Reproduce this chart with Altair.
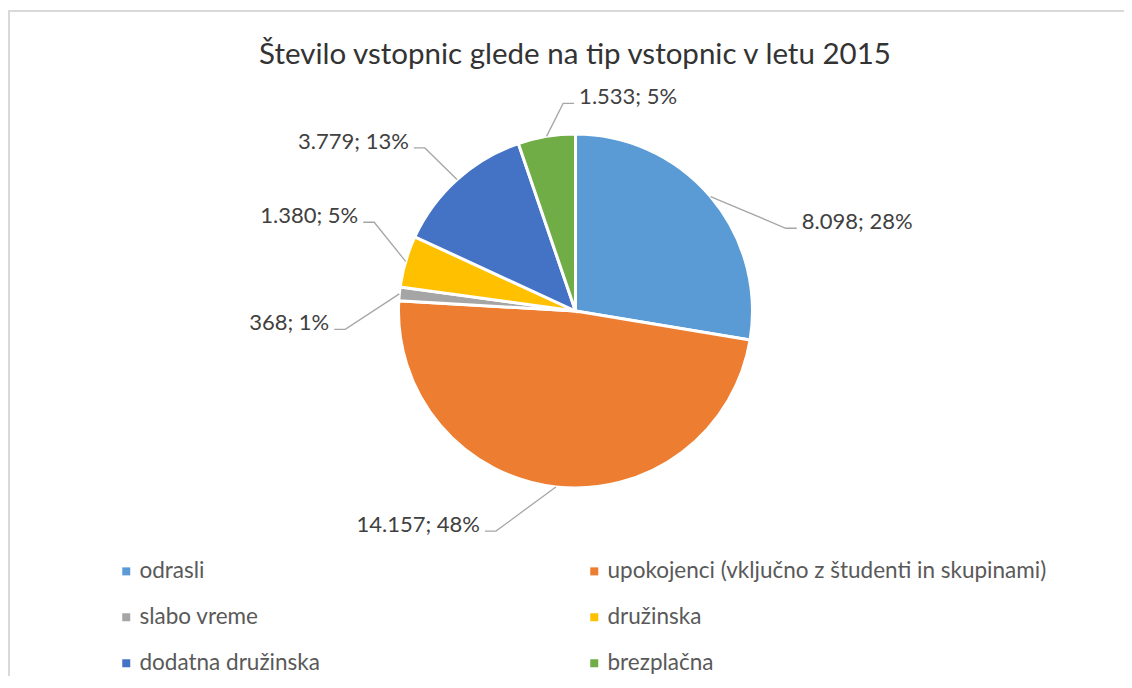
import altair as alt
import pandas as pd
import numpy as np

# ---------------- data ----------------
TITLE = "Število vstopnic glede na tip vstopnic v letu 2015"
CATEGORIES = [
    "odrasli",
    "upokojenci (vključno z študenti in skupinami)",
    "slabo vreme",
    "družinska",
    "dodatna družinska",
    "brezplačna",
]
VALUES = [8098, 14157, 368, 1380, 3779, 1533]
COLORS = ["#5B9BD5", "#ED7D31", "#A5A5A5", "#FFC000", "#4472C4", "#70AD47"]

# ---------------- layout (Excel "best fit" label placement) ----------------
LABEL_SHIFT_DEG = [18.8, 13.5, -10.1, 7.5, -0.7, 6.0]
LABEL_RADIUS = [226, 234, 231, 220, 222, 208]
LABEL_SIDE = ["right", "left", "left", "left", "left", "right"]

W, H = 1116, 668          # view = whole drawing area
CX, CY = 567.5, 303       # pie centre inside the view
R = 177                   # pie radius
ELBOW = 11
GAP = 5

total = sum(VALUES)


def fmt(v):
    return f"{v:,}".replace(",", ".")


pie_df = pd.DataFrame({
    "category": CATEGORIES,
    "value": VALUES,
    "idx": list(range(len(VALUES))),
    "cx": 0.0,
    "cy": 0.0,
})

line_rows, text_rows = [], []
cum = 0.0
for i, v in enumerate(VALUES):
    mid = np.radians((cum + v / 2) / total * 360)
    cum += v
    lab = mid + np.radians(LABEL_SHIFT_DEG[i])
    x0, y0 = R * np.sin(mid), -R * np.cos(mid)
    x1, y1 = LABEL_RADIUS[i] * np.sin(lab), -LABEL_RADIUS[i] * np.cos(lab)
    sgn = 1 if LABEL_SIDE[i] == "right" else -1
    x2 = x1 + sgn * ELBOW
    for p, (xx, yy) in enumerate([(x0, y0), (x1, y1), (x2, y1)]):
        line_rows.append({"slice": CATEGORIES[i], "pt": p, "x": xx, "y": yy})
    pct = int(round(v / total * 100))
    text_rows.append({
        "label": f"{fmt(v)}; {pct}%",
        "x": x2 + sgn * GAP,
        "y": y1 + 1,
        "side": LABEL_SIDE[i],
    })

line_df = pd.DataFrame(line_rows)
text_df = pd.DataFrame(text_rows)

xs = alt.Scale(domain=[-CX, W - CX], nice=False, zero=False)
ys = alt.Scale(domain=[-CY, H - CY], nice=False, zero=False, reverse=True)

arc = alt.Chart(pie_df).mark_arc(outerRadius=R, stroke="white", strokeWidth=3).encode(
    x=alt.X("cx:Q", scale=xs, axis=None),
    y=alt.Y("cy:Q", scale=ys, axis=None),
    theta=alt.Theta("value:Q", stack=True),
    order=alt.Order("idx:Q"),
    color=alt.Color(
        "category:N",
        sort=CATEGORIES,
        scale=alt.Scale(domain=CATEGORIES, range=COLORS),
        legend=alt.Legend(
            title=None,
            orient="none",
            direction="horizontal",
            legendX=107,
            legendY=552,
            columns=2,
            gridAlign="all",
            columnPadding=4,
            rowPadding=23,
            padding=0,
            symbolType="square",
            symbolSize=64,
            symbolStrokeWidth=0,
            labelFont="Lato",
            labelFontSize=22.5,
            labelColor="#595959",
            labelOffset=2,
            labelLimit=0,
        ),
    ),
)

lines = alt.Chart(line_df).mark_line(color="#A6A6A6", strokeWidth=1.3).encode(
    x=alt.X("x:Q", scale=xs, axis=None),
    y=alt.Y("y:Q", scale=ys, axis=None),
    detail="slice:N",
    order="pt:Q",
)

text_base = alt.Chart(text_df)
text_left = text_base.transform_filter(alt.datum.side == "left").mark_text(
    align="right", baseline="alphabetic", font="Lato", fontSize=22, color="#404040"
).encode(
    x=alt.X("x:Q", scale=xs, axis=None),
    y=alt.Y("y:Q", scale=ys, axis=None),
    text="label:N",
)
text_right = text_base.transform_filter(alt.datum.side == "right").mark_text(
    align="left", baseline="alphabetic", font="Lato", fontSize=22, color="#404040"
).encode(
    x=alt.X("x:Q", scale=xs, axis=None),
    y=alt.Y("y:Q", scale=ys, axis=None),
    text="label:N",
)

one = pd.DataFrame({"a": [0]})
top_rule = alt.Chart(one).mark_rule(color="#D9D9D9", strokeWidth=2).encode(
    x=alt.value(0), x2=alt.value(W), y=alt.value(3)
)
left_rule = alt.Chart(one).mark_rule(color="#D9D9D9", strokeWidth=2).encode(
    x=alt.value(1), y=alt.value(3), y2=alt.value(H)
)

chart = alt.layer(arc, lines, text_left, text_right, top_rule, left_rule).properties(
    width=W,
    height=H,
    padding=0,
    autosize=alt.AutoSizeParams(type="none"),
    title=alt.Title(
        TITLE,
        font="Lato",
        fontSize=29.5,
        fontWeight="normal",
        color="#333333",
        anchor="middle",
        frame="group",
        orient="top",
        baseline="alphabetic",
        offset=-51,
        dx=9,
        dy=34,
    ),
).configure_view(stroke=None)

chart.save("out.html", embed_options={"renderer": "svg", "actions": False})
